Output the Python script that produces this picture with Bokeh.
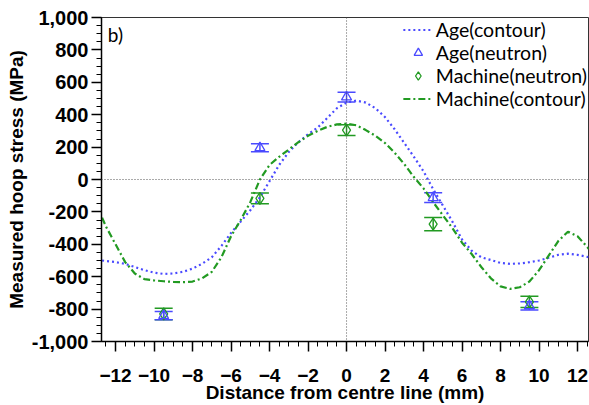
from bokeh.plotting import figure
from bokeh.models import (ColumnDataSource, Whisker, Span, Label, Legend, LegendItem,
                          NumeralTickFormatter, FixedTicker, Range1d, TeeHead)
from bokeh.embed import file_html
from bokeh.resources import INLINE

# ---- data ----
age_contour_x = [-12.7, -12, -11.5, -11, -10.5, -10, -9.5, -9, -8.5, -8, -7.5, -7, -6.5, -6,
                 -5.5, -5, -4.5, -4, -3.5, -3, -2.5, -2, -1.5, -1, -0.5, 0, 0.5, 1, 1.5, 2,
                 2.5, 3, 3.5, 4, 4.5, 5, 5.5, 6, 6.5, 7, 7.5, 8, 8.5, 9, 9.5, 10, 10.5, 11,
                 11.5, 12, 12.6]
age_contour_y = [-500, -510, -521, -540, -560, -575, -583, -580, -570, -550, -520, -480, -410, -330,
                 -260, -190, -110, -10, 90, 170, 230, 280, 320, 380, 440, 475, 487, 475, 440, 385,
                 310, 225, 140, 50, -60, -160, -260, -370, -440, -480, -497, -515, -521, -518, -511, -500, -483, -465,
                 -458, -465, -480]

machine_contour_x = [-12.7, -12.5, -12, -11.5, -11, -10.5, -10, -9.5, -9, -8.5, -8, -7.5, -7, -6.5,
                     -6, -5.5, -5, -4.5, -4, -3.5, -3, -2.5, -2, -1.5, -1, -0.5, 0, 0.5, 1, 1.5,
                     2, 2.5, 3, 3.5, 4, 4.5, 5, 5.5, 6, 6.5, 7, 7.5, 8, 8.5, 9, 9.5, 10, 10.5,
                     11, 11.5, 12, 12.6]
machine_contour_y = [-235, -290, -400, -510, -580, -615, -623, -628, -632, -634, -630, -610, -570, -480,
                     -350, -250, -140, 0, 90, 140, 185, 230, 270, 300, 325, 340, 345, 335, 305, 270,
                     225, 165, 95, 15, -55, -140, -220, -300, -390, -460, -540, -610, -660, -675, -665, -630, -560, -470,
                     -380, -322, -350, -430]

neutron_x = [-9.5, -4.5, 0, 4.5, 9.5]
age_neutron_y = [-840, 196, 509, -112, -780]
age_neutron_err = [25, 25, 30, 30, 25]
machine_neutron_y = [-830, -117, 305, -276, -755]
machine_neutron_err = [35, 33, 33, 41, 35]

x_ticks = [-12, -10, -8, -6, -4, -2, 0, 2, 4, 6, 8, 10, 12]
y_ticks = [-1000, -800, -600, -400, -200, 0, 200, 400, 600, 800, 1000]

BLUE = "#4a4aff"
GREEN = "#229a22"

p = figure(width=589, height=405, output_backend="svg", toolbar_location=None,
           x_range=Range1d(-12.73, 12.57), y_range=Range1d(-1000, 1000),
           min_border_left=101, min_border_top=17, min_border_right=1, min_border_bottom=62)
p.background_fill_color = "white"
p.border_fill_color = "white"
p.outline_line_color = "#333333"
p.outline_line_width = 1
p.grid.visible = False

# reference lines
p.add_layout(Span(location=0, dimension="width", line_color="#555555", line_dash="1 2", line_width=1))
p.add_layout(Span(location=0, dimension="height", line_color="#555555", line_dash="1 2", line_width=1))

# contour lines
r_age_c = p.line(age_contour_x, age_contour_y, line_color=BLUE, line_width=2.2, line_dash="2 3")
r_mac_c = p.line(machine_contour_x, machine_contour_y, line_color=GREEN, line_width=2.2,
                 line_dash="7 3 2 3")

# neutron data with error bars
src_age = ColumnDataSource(dict(x=neutron_x, y=age_neutron_y,
                                lo=[v - e for v, e in zip(age_neutron_y, age_neutron_err)],
                                hi=[v + e for v, e in zip(age_neutron_y, age_neutron_err)]))
src_mac = ColumnDataSource(dict(x=neutron_x, y=machine_neutron_y,
                                lo=[v - e for v, e in zip(machine_neutron_y, machine_neutron_err)],
                                hi=[v + e for v, e in zip(machine_neutron_y, machine_neutron_err)]))

for src, col in ((src_mac, GREEN), (src_age, BLUE)):
    w = Whisker(source=src, base="x", lower="lo", upper="hi", line_color=col, line_width=1.5,
                upper_head=TeeHead(size=18, line_color=col, line_width=1.5),
                lower_head=TeeHead(size=18, line_color=col, line_width=1.5))
    p.add_layout(w)

r_mac_n = p.scatter("x", "y", source=src_mac, marker="diamond", size=12, fill_color=None,
                    line_color=GREEN, line_width=1.3)
r_age_n = p.scatter("x", "y", source=src_age, marker="triangle", size=10, fill_color=None,
                    line_color=BLUE, line_width=1.3)

# axes
p.xaxis.ticker = FixedTicker(ticks=x_ticks, minor_ticks=[v / 2 for v in range(-25, 26)])
p.yaxis.ticker = FixedTicker(ticks=y_ticks, minor_ticks=list(range(-1000, 1001, 50)))
p.yaxis.formatter = NumeralTickFormatter(format="0,0")
for ax in (p.xaxis[0], p.yaxis[0]):
    ax.axis_line_color = "black"
    ax.axis_line_width = 1.5
    ax.major_tick_line_color = "black"
    ax.major_tick_line_width = 1.5
    ax.minor_tick_line_color = "black"
    ax.minor_tick_line_width = 1
    ax.major_tick_in = 0
    ax.major_tick_out = 10
    ax.minor_tick_in = 0
    ax.minor_tick_out = 5
    ax.major_label_text_font = "Liberation Sans"
    ax.major_label_text_font_style = "bold"
    ax.major_label_text_font_size = "19px"
    ax.major_label_text_color = "black"
    ax.axis_label_text_font = "Liberation Sans"
    ax.axis_label_text_font_style = "bold"
    ax.axis_label_text_font_size = "19px"
    ax.axis_label_text_color = "black"
p.yaxis.major_label_text_font_size = "20px"
p.xaxis.axis_label = "Distance from centre line (mm)"
p.yaxis.axis_label = "Measured hoop stress (MPa)"
p.xaxis.major_label_standoff = 17
p.xaxis.axis_label_standoff = -3
p.yaxis.major_label_standoff = 3
p.yaxis.axis_label_standoff = 2

# panel label
p.add_layout(Label(x=-12.4, y=965, text="b)", text_font="Lato", text_font_size="19px",
                   text_color="black", text_baseline="top"))

legend = Legend(items=[LegendItem(label="Age(contour)", renderers=[r_age_c]),
                       LegendItem(label="Age(neutron)", renderers=[r_age_n]),
                       LegendItem(label="Machine(neutron)", renderers=[r_mac_n]),
                       LegendItem(label="Machine(contour)", renderers=[r_mac_c])],
                location="top_right", border_line_color=None, background_fill_alpha=0,
                label_text_font="Lato", label_text_font_size="19.5px", label_text_color="black",
                glyph_width=30, glyph_height=21, label_height=21, spacing=0,
                label_standoff=3, padding=3, margin=1)
p.add_layout(legend)

open("out.html", "w").write(file_html(p, INLINE))
